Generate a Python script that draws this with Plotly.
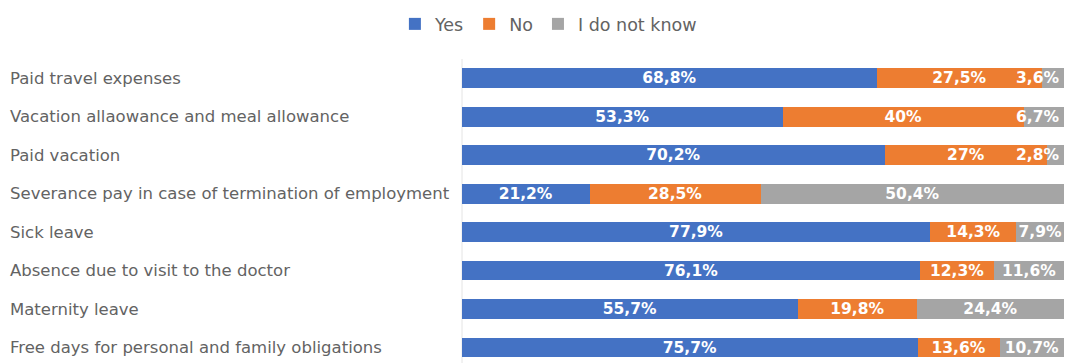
import plotly.graph_objects as go

categories = [
    "Paid travel expenses",
    "Vacation allaowance and meal allowance",
    "Paid vacation",
    "Severance pay in case of termination of employment",
    "Sick leave",
    "Absence due to visit to the doctor",
    "Maternity leave",
    "Free days for personal and family obligations",
]
yes_vals = [68.8, 53.3, 70.2, 21.2, 77.9, 76.1, 55.7, 75.7]
no_vals = [27.5, 40.0, 27.0, 28.5, 14.3, 12.3, 19.8, 13.6]
dont_know_vals = [3.6, 6.7, 2.8, 50.4, 7.9, 11.6, 24.4, 10.7]

series_names = ["Yes", "No", "I do not know"]
series_colors = ["#4472C4", "#ED7D31", "#A5A5A5"]

FONT = "DejaVu Sans"
LABEL_GRAY = "#636363"
BAR_TEXT = dict(family=FONT, size=15.5, color="white", weight="bold")

# segments narrower than this get their label pinned to the bar's right end
NARROW = 7.0


def pct_label(v):
    return f"{v:g}".replace(".", ",") + "%"


fig = go.Figure()
series = [yes_vals, no_vals, dont_know_vals]
for idx, (name, vals, color) in enumerate(zip(series_names, series, series_colors)):
    last = idx == len(series) - 1
    labels = [
        "" if (last and v < NARROW) else pct_label(v)
        for v in vals
    ]
    fig.add_trace(go.Bar(
        name=name,
        y=categories,
        x=vals,
        orientation="h",
        marker=dict(color=color, line=dict(width=0)),
        text=labels,
        textposition="inside",
        insidetextanchor="middle",
        textangle=0,
        constraintext="none",
        textfont=BAR_TEXT,
        hoverinfo="skip",
    ))

# labels of thin end segments, right-aligned at the end of the bar
for cat, v in zip(categories, dont_know_vals):
    if v < NARROW:
        fig.add_annotation(
            x=100, xref="x", y=cat, yref="y",
            text=pct_label(v), showarrow=False,
            xanchor="right", xshift=-3,
            font=BAR_TEXT,
        )

plot_left, plot_right = 462, 1064

# Left-aligned category labels
for cat in categories:
    fig.add_annotation(
        x=(8 - plot_left) / (plot_right - plot_left), xref="paper",
        y=cat, yref="y",
        text=cat, showarrow=False, xanchor="left",
        font=dict(family=FONT, size=16.5, color=LABEL_GRAY),
    )

fig.update_layout(
    barmode="stack",
    barnorm="percent",
    bargap=0.49,
    width=1069,
    height=363,
    margin=dict(l=plot_left, r=1069 - plot_right, t=59, b=0),
    paper_bgcolor="white",
    plot_bgcolor="white",
    showlegend=True,
    legend=dict(
        orientation="h",
        xref="container", yref="container",
        x=0.513, xanchor="center",
        y=1 - 24 / 363, yanchor="middle",
        font=dict(family=FONT, size=17.5, color=LABEL_GRAY),
        traceorder="normal",
        itemwidth=30,
    ),
    xaxis=dict(range=[0, 100], visible=False, fixedrange=True),
    yaxis=dict(
        range=[7.4, -0.5],
        showticklabels=False,
        showgrid=False,
        zeroline=False,
        showline=False,
        ticks="",
    ),
    shapes=[dict(
        type="line", xref="paper", yref="paper",
        x0=0, x1=0, y0=0, y1=1,
        line=dict(color="#E4E4E4", width=1),
        layer="below",
    )],
)

fig.write_html("out.html")
